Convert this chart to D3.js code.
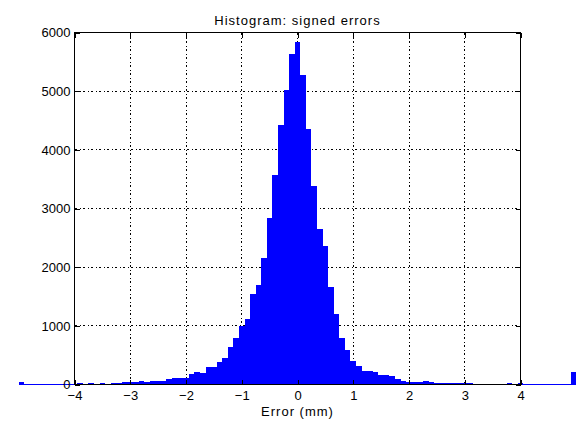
<!DOCTYPE html>
<html>
<head>
<meta charset="utf-8">
<script src="https://cdn.jsdelivr.net/npm/d3@7"></script>
<style>
  body { margin: 0; background: #fff; }
  text { font-family: "Liberation Sans", Arial, sans-serif; }
</style>
</head>
<body>
<div id="container"></div>
<script>
// bin centres (mm) inside the axis range, 0.1 mm wide
var binCenters = d3.range(-40, 41).map(function (k) { return k / 10; });
// counts, one per bin centre
var counts = [
  0, 20, 8, 20, 8, 20, 8, 20, 20, 51,            // -4.0 .. -3.1
  51, 51, 68, 51, 68, 68, 68, 90, 105, 105,      // -3.0 .. -2.1
  105, 176, 205, 188, 290, 290, 392, 460, 631, 801, // -2.0 .. -1.1
  989, 1125, 1535, 1688, 2148, 2830, 3563, 4416, 5013, 5627, // -1.0 .. -0.1
  5831,                                          // 0.0
  5274, 4348, 3381, 2643, 2353, 1654, 1194, 801, 580, 409, // 0.1 .. 1.0
  307, 222, 222, 205, 170, 170, 153, 102, 68, 51, // 1.1 .. 2.0
  51, 51, 68, 51, 20, 20, 22, 18, 20, 20,        // 2.1 .. 3.0
  18, 16, 16, 6, 6, 6, 6, 20, 6, 20              // 3.1 .. 4.0
];
// clamped outliers sitting outside the axis box
var outlierCenters = [-4.95, 4.95];
var outlierCounts = [50, 205];

var xTicks = [-4, -3, -2, -1, 0, 1, 2, 3, 4];
var yTicks = [0, 1000, 2000, 3000, 4000, 5000, 6000];

var W = 576, H = 432;
var svg = d3.select("#container").append("svg")
  .attr("width", W).attr("height", H)
  .style("display", "block");

var x = d3.scaleLinear().domain([-4, 4]).range([74.5, 520.5]);
var y = d3.scaleLinear().domain([0, 6000]).range([384.5, 32.5]);
var half = 0.05;

// grid (behind bars)
var grid = svg.append("g")
  .attr("stroke", "#000")
  .attr("stroke-width", 1)
  .attr("stroke-dasharray", "2,3,1,2")
  .attr("shape-rendering", "crispEdges");
grid.selectAll(".gx")
  .data(xTicks.filter(function (d) { return d > -4 && d < 4; }))
  .enter().append("line")
  .attr("x1", function (d) { return Math.round(x(d) - 0.5) + 0.5; })
  .attr("x2", function (d) { return Math.round(x(d) - 0.5) + 0.5; })
  .attr("y1", y(6000)).attr("y2", y(0));
grid.selectAll(".gy")
  .data(yTicks.filter(function (d) { return d > 0 && d < 6000; }))
  .enter().append("line")
  .attr("y1", function (d) { return Math.round(y(d) - 0.5) + 0.5; })
  .attr("y2", function (d) { return Math.round(y(d) - 0.5) + 0.5; })
  .attr("x1", x(-4)).attr("x2", x(4));

// zero line of the bar series, spanning all bins
svg.append("line")
  .attr("x1", x(-5)).attr("x2", x(5))
  .attr("y1", y(0) - 0.5).attr("y2", y(0) - 0.5)
  .attr("stroke", "#0000ff")
  .attr("shape-rendering", "crispEdges");

var bars = binCenters.map(function (c, i) { return { c: c, n: counts[i] }; })
  .concat(outlierCenters.map(function (c, i) { return { c: c, n: outlierCounts[i] }; }));

svg.append("g")
  .attr("fill", "#0000ff")
  .attr("shape-rendering", "crispEdges")
  .selectAll("rect")
  .data(bars.filter(function (d) { return d.n > 0; }))
  .enter().append("rect")
  .attr("x", function (d) { return x(d.c - half); })
  .attr("width", function (d) { return x(d.c + half) - x(d.c - half); })
  .attr("y", function (d) { return y(d.n); })
  .attr("height", function (d) { return y(0) - y(d.n); });

// axes box
svg.append("rect")
  .attr("x", x(-4)).attr("y", y(6000))
  .attr("width", x(4) - x(-4)).attr("height", y(0) - y(6000))
  .attr("fill", "none").attr("stroke", "#000")
  .attr("shape-rendering", "crispEdges");

var fmt = function (d) { return d < 0 ? "\u2212" + Math.abs(d) : String(d); };

function styleAxis(g) {
  g.select(".domain").remove();
  g.selectAll(".tick line").attr("stroke", "#000").attr("shape-rendering", "crispEdges");
  g.selectAll(".tick text")
    .attr("fill", "#000")
    .style("font-size", "13px")
    .style("font-family", "'Liberation Sans', Arial, sans-serif");
}

svg.append("g")
  .attr("transform", "translate(0," + y(0) + ")")
  .call(d3.axisBottom(x).tickValues(xTicks).tickFormat(fmt).tickSize(-5).tickPadding(6))
  .call(styleAxis);
svg.append("g")
  .attr("transform", "translate(0," + y(6000) + ")")
  .call(d3.axisTop(x).tickValues(xTicks).tickFormat("").tickSize(-5))
  .call(styleAxis);
svg.append("g")
  .attr("transform", "translate(" + x(-4) + ",0)")
  .call(d3.axisLeft(y).tickValues(yTicks).tickFormat(d3.format("d")).tickSize(-5).tickPadding(4))
  .call(styleAxis);
svg.append("g")
  .attr("transform", "translate(" + x(4) + ",0)")
  .call(d3.axisRight(y).tickValues(yTicks).tickFormat("").tickSize(-5))
  .call(styleAxis);

// title and x label
svg.append("text")
  .attr("x", x(0)).attr("y", 25)
  .attr("text-anchor", "middle")
  .style("font-size", "13px")
  .style("letter-spacing", "1px")
  .text("Histogram: signed errors");

svg.append("text")
  .attr("x", x(0)).attr("y", 415.5)
  .attr("text-anchor", "middle")
  .style("font-size", "13px")
  .style("letter-spacing", "1px")
  .text("Error (mm)");
</script>
</body>
</html>
